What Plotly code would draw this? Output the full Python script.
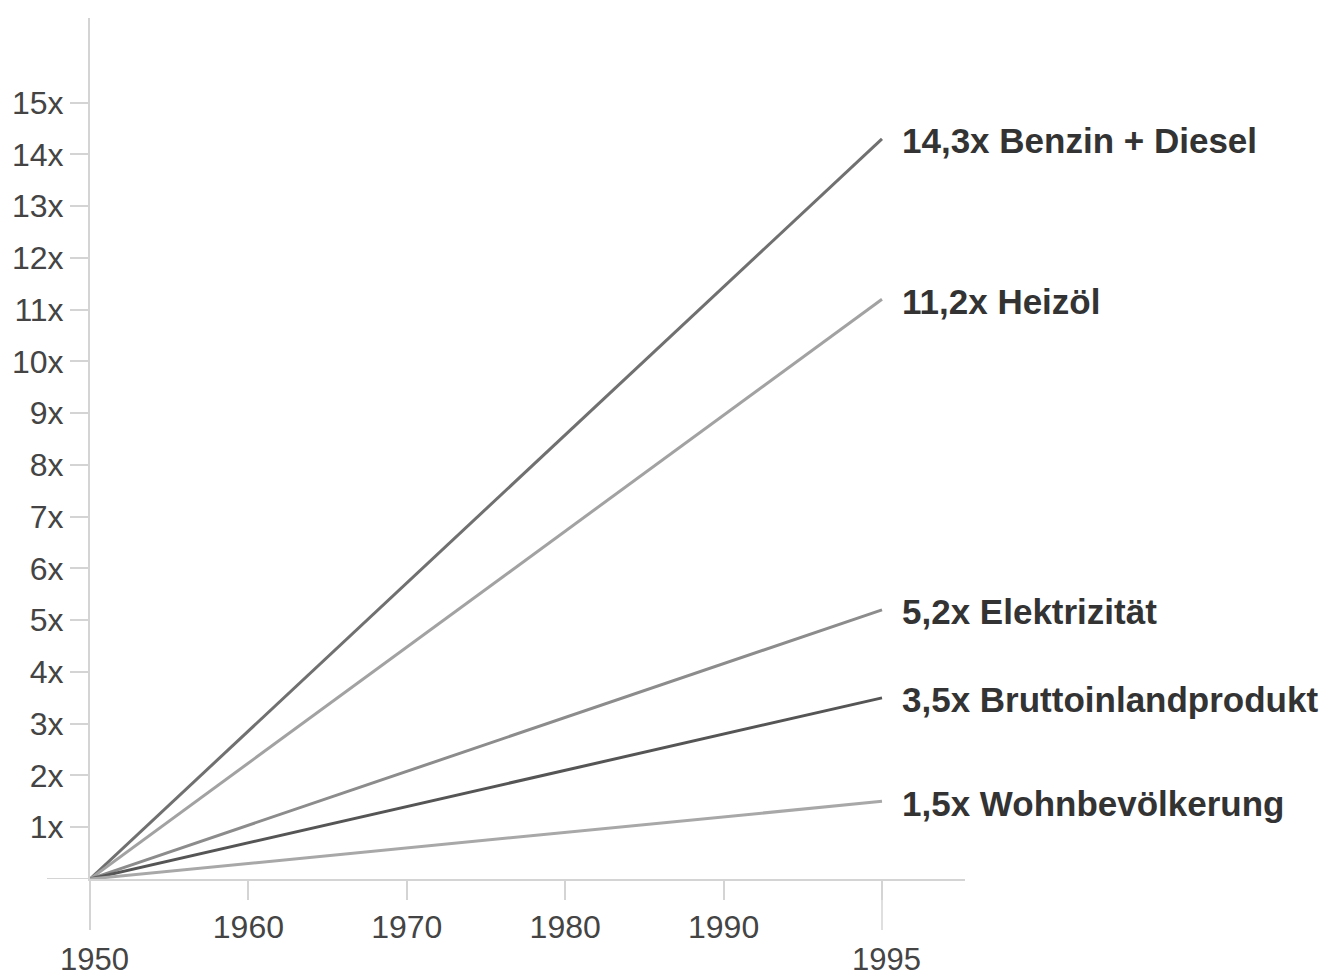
import plotly.graph_objects as go

# ---- data ----
years = ["1950", "1960", "1970", "1980", "1990", "1995"]
start_year = "1950"
end_year = "1995"
series_names = ["Benzin + Diesel", "Heizöl", "Elektrizität", "Bruttoinlandprodukt", "Wohnbevölkerung"]
start_values = [0, 0, 0, 0, 0]
end_values = [14.3, 11.2, 5.2, 3.5, 1.5]
end_labels = ["14,3x", "11,2x", "5,2x", "3,5x", "1,5x"]
y_ticks = list(range(1, 16))
y_tick_labels = [f"{v}x" for v in y_ticks]

# ---- styles ----
line_colors = ["#707070", "#a2a2a2", "#8c8c8c", "#555555", "#a8a8a8"]
FONT = "Liberation Sans, Arial, sans-serif"
AXIS_COL = "#d4d4d4"
TEXT_COL = "#444444"

W, H = 1339, 978
ML, MR, MT, MB = 90, 374, 18, 99
plot_w = W - ML - MR
plot_h = H - MT - MB

# category serial numbers (Plotly's own category scale)
idx_end = years.index(end_year)

fig = go.Figure()
for name, v0, v1, col in zip(series_names, start_values, end_values, line_colors):
    fig.add_trace(go.Scatter(
        x=[start_year, end_year], y=[v0, v1], mode="lines", name=name,
        line=dict(color=col, width=3), showlegend=False, hoverinfo="skip"))

# series labels at line ends
for name, v1, lab in zip(series_names, end_values, end_labels):
    fig.add_annotation(
        x=idx_end, y=v1, xref="x", yref="y",
        text=f"<b>{lab} {name}</b>", showarrow=False,
        xanchor="left", yanchor="middle", xshift=18, yshift=-2,
        font=dict(family=FONT, size=35, color="#333333"))

# lower-row year labels (1950, 1995)
for yr in [start_year, end_year]:
    fig.add_annotation(
        x=years.index(yr), y=0, xref="x", yref="paper", text=yr, showarrow=False,
        xanchor="center", yanchor="middle", yshift=-(959 - (MT + plot_h)), xshift=4,
        borderpad=0,
        font=dict(family=FONT, size=31, color=TEXT_COL))

shapes = []
# x axis extension to the left of y axis
shapes.append(dict(type="line", xref="paper", yref="y", x0=-(ML - 47) / plot_w, x1=0,
                   y0=0, y1=0, line=dict(color=AXIS_COL, width=2)))
# y axis extension below x axis (1950 tick)
shapes.append(dict(type="line", xref="paper", yref="paper", x0=0, x1=0,
                   y0=-(930 - (MT + plot_h)) / plot_h, y1=0, line=dict(color=AXIS_COL, width=2)))
# long 1995 tick
shapes.append(dict(type="line", xref="x", yref="paper", x0=idx_end, x1=idx_end,
                   y0=-(930 - (MT + plot_h)) / plot_h, y1=0, line=dict(color=AXIS_COL, width=1.5)))

fig.update_layout(
    width=W, height=H,
    margin=dict(l=ML, r=MR, t=MT, b=MB, pad=0),
    paper_bgcolor="white", plot_bgcolor="white",
    shapes=shapes,
    xaxis=dict(
        type="category", categoryorder="array", categoryarray=years,
        range=[0, plot_w / 158.4],
        tickmode="array", tickvals=years,
        ticktext=["" if y in (start_year, end_year) else y for y in years],
        ticks="outside", ticklen=19, tickwidth=1.5, tickcolor=AXIS_COL,
        showline=True, linecolor=AXIS_COL, linewidth=2,
        showgrid=False, zeroline=False,
        tickfont=dict(family=FONT, size=32, color=TEXT_COL),
    ),
    yaxis=dict(
        range=[0, (879 - MT) / 51.76],
        tickmode="array", tickvals=y_ticks, ticktext=y_tick_labels,
        ticks="outside", ticklen=18, tickwidth=1.5, tickcolor=AXIS_COL,
        showline=True, linecolor=AXIS_COL, linewidth=2,
        showgrid=False, zeroline=False,
        tickfont=dict(family=FONT, size=32, color=TEXT_COL),
    ),
)

fig.write_html("out.html", config={"displayModeBar": False},
               post_script="document.body.style.margin='0';")
